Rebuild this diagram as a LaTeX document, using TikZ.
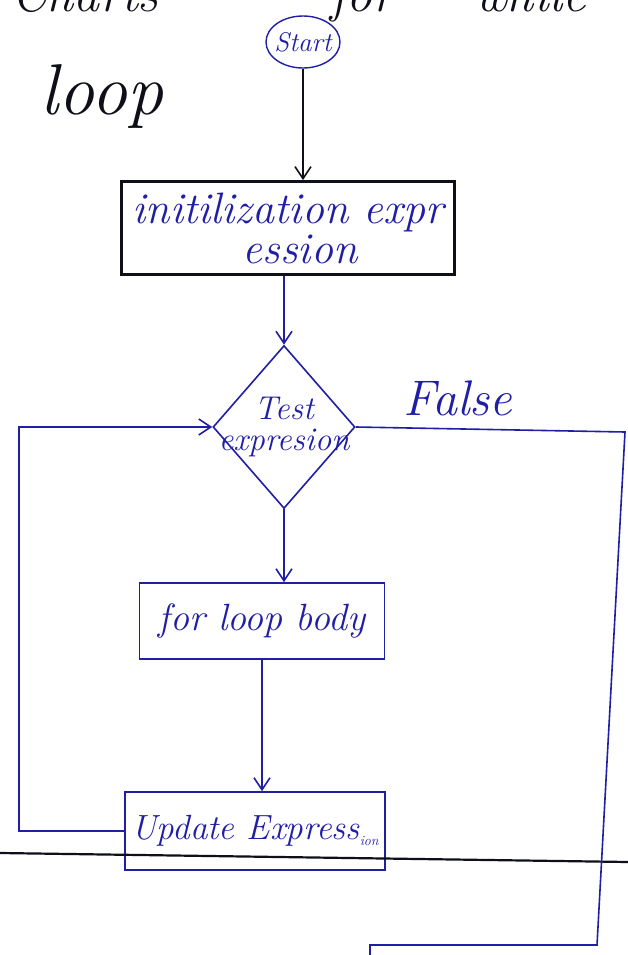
\documentclass[tikz,border=0pt]{standalone}
\usepackage{fontspec}
\usepackage{tikz}
\usetikzlibrary{shapes.geometric,arrows.meta}
\definecolor{inkblue}{RGB}{32,30,165}
\definecolor{inkblack}{RGB}{15,15,25}
\tikzset{
  hand/.style={font=\fontsize{#1}{#1}\selectfont\itshape},
  hand/.default=30,
  bluebox/.style={draw=inkblue,line width=1.6pt,rectangle,inner sep=0pt},
  flowarrow/.style={-{Straight Barb[length=12pt,width=16pt,line width=1.6pt]},line width=1.6pt},
  flowline/.style={line width=1.6pt},
}
\begin{document}
\begin{tikzpicture}[x=1pt,y=-1pt]
\useasboundingbox (0,0) rectangle (628,955);
\fill[white] (0,0) rectangle (628,955);

% heading, running off the top edge of the sheet
\node[hand=52,text=inkblack,anchor=base] (title1) at (85,12) {Charts};
\node[hand=52,text=inkblack,anchor=base] (title2) at (362,12) {for};
\node[hand=52,text=inkblack,anchor=base] (title3) at (530,12) {while};
\node[hand=72,text=inkblack,anchor=base] (title4) at (102,114) {loop};

% nodes
\node[ellipse,draw=inkblue,line width=1.4pt,minimum width=74pt,minimum height=52pt,inner sep=-3pt,
      hand=27,text=inkblue] (start) at (303,42) {Start};
\node[draw=inkblack,line width=2.8pt,rectangle,minimum width=333pt,minimum height=93pt,inner sep=0pt,
      hand=44,text=inkblue,align=center] (init) at (288,228)
      {initilization expr\\[-4pt]\hspace*{24pt}ession};
\node[diamond,draw=inkblue,line width=1.6pt,minimum width=142pt,minimum height=163pt,inner sep=-16pt,
      hand=33,text=inkblue,align=center] (test) at (284,427) {Test\\[-2pt]expresion};
\node[bluebox,minimum width=245pt,minimum height=76pt,hand=38,text=inkblue] (body) at (262,621) {for loop body};
\node[bluebox,minimum width=260pt,minimum height=78pt,hand=35,text=inkblue] (update) at (255,831)
      {Update Express\raisebox{-6pt}{\fontsize{14}{14}\selectfont ion}};

% notebook ruling across the sheet
\coordinate (ruleL) at (0,853);
\coordinate (ruleR) at (628,862);
\draw[inkblack,line width=2.2pt] (ruleL) -- (ruleR);

% connectors
\draw[flowarrow,inkblack] (start.south) -- (start.south |- init.north);
\draw[flowarrow,inkblue] (test.north |- init.south) -- (test.north);
\draw[flowarrow,inkblue] (test.south) -- (test.south |- body.north);
\draw[flowarrow,inkblue] (body.south) -- (body.south |- update.north);
\draw[flowarrow,inkblue] (update.west) -- ++(-105,0) |- (test.west);

% false branch
\coordinate (fTop) at (625,432);
\coordinate (fBot) at (597,945);
\coordinate (fEnd) at (370,945);
\coordinate (fTail) at (370,965);
\draw[flowline,inkblue] (test.east) -- (fTop) -- (fBot) -- (fEnd) -- (fTail);
\node[hand=50,text=inkblue] (false) at (458,398) {False};
\end{tikzpicture}
\end{document}
